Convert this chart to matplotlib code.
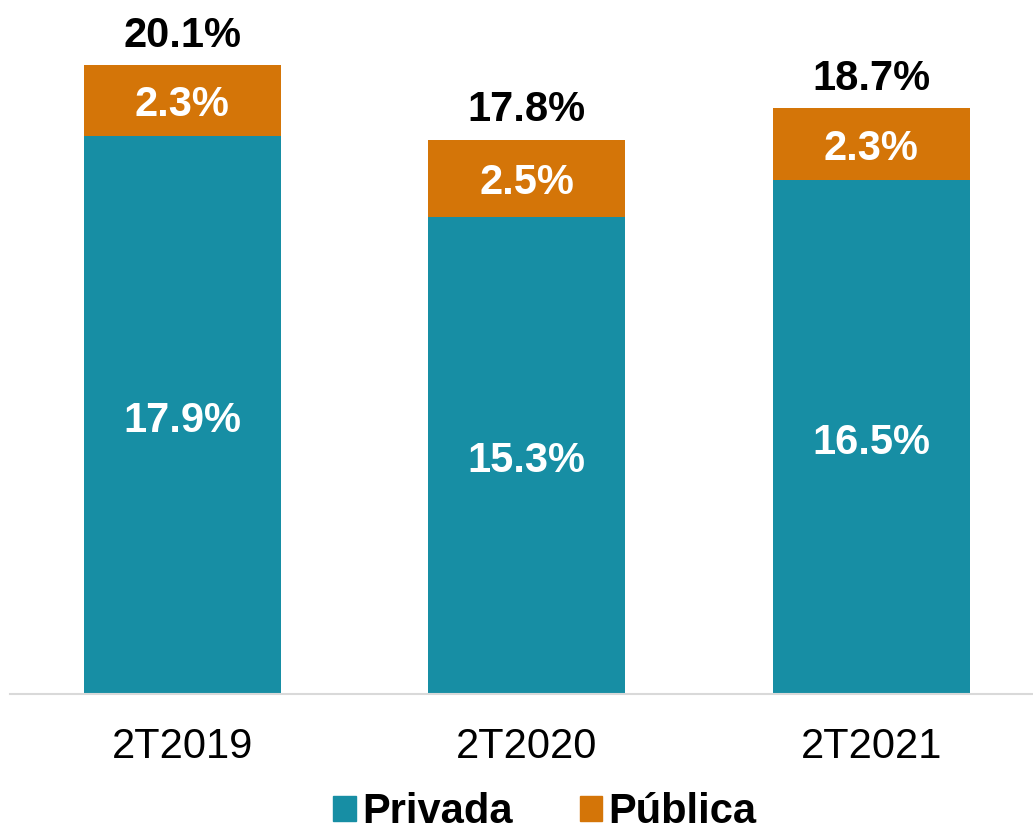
import numpy as np
import matplotlib.pyplot as plt
from matplotlib.patches import Patch

plt.rcParams['font.family'] = ['Liberation Sans', 'DejaVu Sans']

periodos = ['2T2019', '2T2020', '2T2021']
privada = [17.9, 15.3, 16.5]
publica = [2.3, 2.5, 2.3]
total = [20.1, 17.8, 18.7]

c_priv = '#178EA4'
c_pub = '#D47508'

fig = plt.figure(figsize=(10.33, 8.31), dpi=100)
ax = fig.add_axes([10 / 1033, 137 / 831, 1 - 10 / 1033, 694 / 831])

x = np.arange(len(periodos))
w = 0.572
ax.bar(x, privada, w, color=c_priv)
ax.bar(x, publica, w, bottom=privada, color=c_pub)

# etiquetas dentro de las barras y total arriba
for i in range(len(x)):
    ax.annotate(f'{privada[i]:.1f}%', (x[i], privada[i] / 2), xytext=(0, -4),
                textcoords='offset points', ha='center', va='center',
                color='white', fontsize=30, fontweight='bold')
    ax.annotate(f'{publica[i]:.1f}%', (x[i], privada[i] + publica[i] / 2), xytext=(0, -3.5),
                textcoords='offset points', ha='center', va='center',
                color='white', fontsize=30, fontweight='bold')
    ax.annotate(f'{total[i]:.1f}%', (x[i], privada[i] + publica[i]), xytext=(0, 21),
                textcoords='offset points', ha='center', va='center',
                color='black', fontsize=30, fontweight='bold')

ax.set_xlim(-0.5, 2.47)
ax.set_ylim(0, 22.28)
ax.set_xticks(x)
ax.set_xticklabels(periodos, fontsize=30)
ax.tick_params(axis='x', length=0, pad=24)
ax.set_yticks([])
for s in ['top', 'right', 'left']:
    ax.spines[s].set_visible(False)
ax.spines['bottom'].set_color('#d9d9d9')
ax.spines['bottom'].set_linewidth(1.5)

handles = [Patch(color=c_priv, label='Privada'), Patch(color=c_pub, label='Pública')]
fig.legend(handles=handles, loc='center', bbox_to_anchor=(545 / 1033, 19 / 831), ncol=2,
           frameon=False, prop={'size': 30, 'weight': 'bold'},
           handlelength=0.55, handleheight=0.55, handletextpad=0.15, columnspacing=1.6,
           borderpad=0.1)

fig.savefig('out.png', dpi=100)
